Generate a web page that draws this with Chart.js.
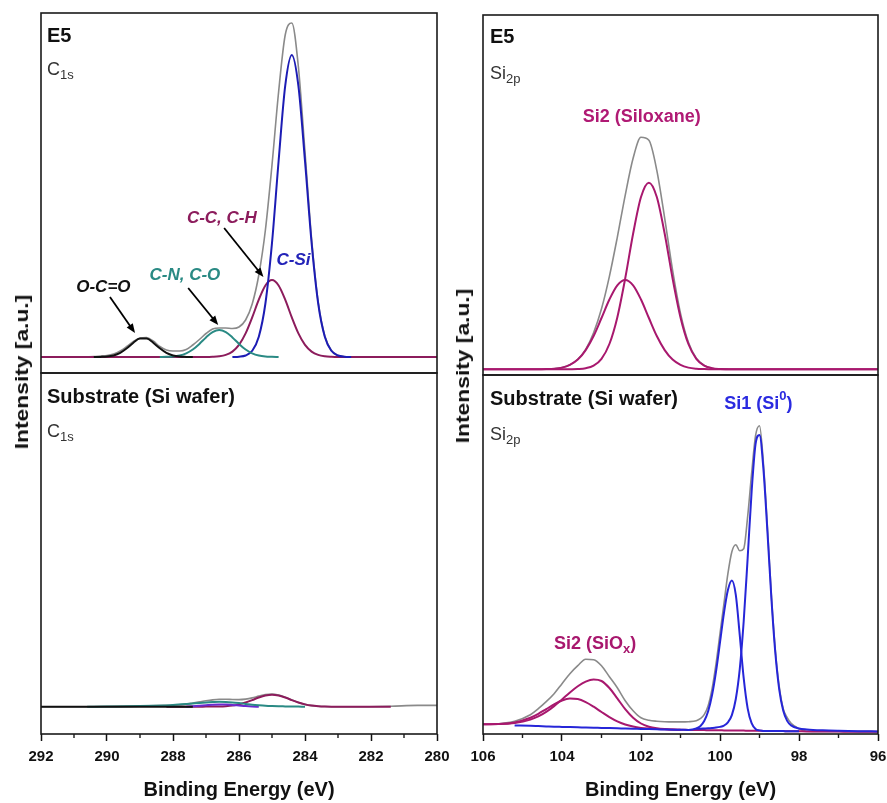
<!DOCTYPE html>
<html>
<head>
<meta charset="utf-8">
<script src="https://cdn.jsdelivr.net/npm/chart.js@4.4.1/dist/chart.umd.min.js"></script>
<style>
  body { margin: 0; background: #fff; }
  #page { position: relative; width: 887px; height: 803px; overflow: hidden; background: #fff; }
  canvas { position: absolute; }
  .ytitle {
    position: absolute; white-space: nowrap; color: #111;
    font: bold 19px "Liberation Sans", Arial, sans-serif;
    transform: translate(-50%, -50%) rotate(-90deg) scaleX(1.2);
  }
</style>
</head>
<body>
<div id="page">
  <canvas id="c1sTop" width="450" height="374" style="left:0;top:0"></canvas>
  <canvas id="c1sBot" width="450" height="431" style="left:0;top:372px"></canvas>
  <canvas id="si2pTop" width="437" height="376" style="left:450px;top:0"></canvas>
  <canvas id="si2pBot" width="437" height="429" style="left:450px;top:374px"></canvas>
  <div class="ytitle" style="left:22px;top:372px">Intensity [a.u.]</div>
  <div class="ytitle" style="left:463px;top:366px">Intensity [a.u.]</div>
</div>
<script>
// ---- C1s, sample E5 (binding energy, eV) ----
const c1sE5Energy = [292, 291, 290.4, 290.2, 290.0, 289.8, 289.6, 289.4, 289.2, 289.0, 288.8, 288.6, 288.4, 288.2, 288.0,
  287.8, 287.6, 287.4, 287.2, 287.0, 286.8, 286.6, 286.4, 286.2, 286.0, 285.8, 285.6, 285.4, 285.2, 285.0,
  284.8, 284.6, 284.4, 284.2, 284.0, 283.8, 283.6, 283.4, 283.2, 283.0, 282.8, 282.6, 282, 281, 280];
const c1sE5Envelope = [0, 0, 0.5, 1, 1.5, 3, 6, 10.5, 15.5, 19, 19.5, 16, 10.5, 7, 6,
  6, 7.5, 12, 17.5, 23.5, 28, 29, 29, 28.5, 30, 37, 53, 82, 127, 192,
  265, 322, 334, 290, 205, 118, 55, 21, 6.5, 1.5, 0.3, 0, 0, 0, 0];
const c1sE5OCO = [null, null, 0, 0.1, 0.4, 1.5, 4.1, 8.7, 14.3, 18.4, 18.4, 14.3, 8.7, 4.1, 1.5,
  0.4, 0.1, 0, null, null, null, null, null, null, null, null, null, null, null, null,
  null, null, null, null, null, null, null, null, null, null, null, null, null, null, null];
const c1sE5CNCO = [null, null, null, null, null, null, null, null, null, null, null, null, 0, 0.2, 0.5,
  1.5, 3.7, 7.5, 13.1, 19.6, 24.9, 27, 24.9, 19.6, 13.1, 7.5, 3.7, 1.5, 0.5, 0.2,
  0, null, null, null, null, null, null, null, null, null, null, null, null, null, null];
const c1sE5CCCH = [0, 0, 0, 0, 0, 0, 0, 0, 0, 0, 0, 0, 0, 0, 0,
  0, 0, 0, 0, 0, 0.2, 0.7, 2.1, 5.4, 12.1, 23.6, 39.6, 57.3, 71.5, 77,
  71.5, 57.3, 39.6, 23.6, 12.1, 5.4, 2.1, 0.7, 0.2, 0, 0, 0, 0, 0, 0];
const c1sE5CSi = [null, null, null, null, null, null, null, null, null, null, null, null, null, null, null,
  null, null, null, null, null, null, null, null, 0, 0.3, 1.5, 6.2, 20.3, 53.5, 114.1,
  196, 271.1, 302, 271.1, 196, 114.1, 53.5, 20.3, 6.2, 1.5, 0.3, 0, null, null, null];

// ---- C1s, substrate (Si wafer) ----
const c1sSubEnergy = [292, 290.6, 290, 289, 288.2, 288, 287.6, 287.4, 287.2, 287.0, 286.8, 286.6, 286.4, 286.2, 286.0,
  285.8, 285.6, 285.4, 285.2, 285.0, 284.8, 284.6, 284.4, 284.2, 284.0, 283.8, 283.6, 283.4, 283.0, 282.6,
  281.4, 280.6, 280];
const c1sSubEnvelope = [0, 0, 0.2, 0.6, 1.3, 1.6, 2.6, 3.7, 4.8, 5.9, 6.8, 7.4, 7.5, 7.2, 7.1,
  7.6, 8.8, 10.6, 12.1, 12.6, 11.6, 9.5, 6.8, 4.3, 2.3, 1.1, 0.5, 0.2, 0, 0,
  0.5, 1.3, 1.3];
const c1sSubOCO = [0, 0, 0, 0, 0, 0, 0, 0, null, null, null, null, null, null, null,
  null, null, null, null, null, null, null, null, null, null, null, null, null, null, null,
  null, null, null];
const c1sSubCNCO = [null, 0, 0.2, 0.6, 1.3, 1.6, 2.6, 3.2, 3.8, 4.3, 4.7, 5, 4.8, 4.3, 3.6,
  2.8, 2.0, 1.4, 0.9, 0.6, 0.4, 0.3, 0.2, 0.1, 0, null, null, null, null, null,
  null, null, null];
const c1sSubCCCH = [null, null, null, null, 0, 0, 0, 0, 0, 0.1, 0.1, 0.2, 0.5, 1.1, 2.3,
  4.2, 6.6, 9.2, 11.2, 12, 11.2, 9.2, 6.6, 4.2, 2.3, 1.1, 0.5, 0.2, 0, 0,
  0, null, null];
const c1sSubCSi = [null, null, null, null, null, null, 0, 0.5, 1, 1.5, 2, 2.2, 2.2, 1.8, 1.2,
  0.6, 0.2, 0, null, null, null, null, null, null, null, null, null, null, null, null,
  null, null, null];

// ---- Si2p, sample E5 ----
const si2pE5Energy = [106, 105, 104.6, 104.4, 104.2, 104.0, 103.8, 103.6, 103.4, 103.2, 103.0, 102.8, 102.6, 102.4, 102.2,
  102.0, 101.8, 101.6, 101.4, 101.2, 101.0, 100.8, 100.6, 100.4, 100.2, 100.0, 99.8, 99.6, 99, 98,
  97, 96];
const si2pE5Envelope = [null, null, null, 0.2, 0.6, 1.7, 4.5, 10, 20, 36.5, 60.5, 93, 132, 174, 211,
  232, 229, 199, 151, 99, 56, 27, 11, 3.9, 1.1, 0.3, 0.1, null, null, null,
  null, null];
const si2pE5SiloxaneA = [0, 0, 0, 0, 0, 0, 0.1, 0.3, 1.1, 3.7, 10.5, 25.3, 51.9, 90.8, 135.5,
  172.3, 186.6, 172.3, 135.5, 90.8, 51.9, 25.3, 10.5, 3.7, 1.1, 0.3, 0.1, 0, 0, 0,
  0, 0];
const si2pE5SiloxaneB = [0, 0, 0, 0.2, 0.6, 1.7, 4.4, 9.7, 19.2, 33.3, 51.3, 69.8, 84.0, 89.3, 84.0,
  69.8, 51.3, 33.3, 19.2, 9.7, 4.4, 1.7, 0.6, 0.2, 0, 0, 0, 0, 0, 0,
  0, 0];

// ---- Si2p, substrate (Si wafer) ----
const si2pSubEnergy = [106.0, 105.6, 105.2, 104.8, 104.6, 104.4, 104.2, 104.0, 103.8, 103.6, 103.4, 103.2, 103.0, 102.8, 102.6,
  102.4, 102.2, 102.0, 101.8, 101.6, 101.4, 101.2, 101.0, 100.8, 100.6, 100.5, 100.4, 100.3, 100.2, 100.1,
  100.0, 99.9, 99.8, 99.7, 99.6, 99.5, 99.4, 99.3, 99.2, 99.1, 99.0, 98.9, 98.8, 98.7, 98.6,
  98.5, 98.4, 98.3, 98.2, 98.0, 97.8, 97.4, 97.0, 96.5, 96.0];
const si2pSubEnvelope = [null, 8, 10.5, 17, 23, 30, 38, 48, 58, 66, 72.5, 72, 66, 55, 44,
  31, 21, 14, 11.5, 10.5, 10, 9.8, 9.8, 10, 11, 13, 17, 26, 43, 68,
  98, 128, 158, 180, 187, 181, 183, 215, 258, 296, 306, 268, 205, 137, 82,
  45, 23, 14, 8.5, 3, 0.5, 0.3, 0.2, 0.1, 0];
const si2pSubSiOxA = [7.5, 7.6, 8.7, 12.1, 15.3, 19.8, 25.6, 32.3, 39.2, 45.4, 50.1, 52.2, 50.7, 43.7, 33.3,
  22.6, 14.0, 8.2, 5.0, 3.4, 2.6, 2.2, 1.9, 1.8, 1.7, 1.6, 1.6, 1.5, 1.5, 1.4,
  1.4, 1.3, 1.3, 1.2, 1.2, 1.1, 1.1, 1.0, 1.0, 0.9, 0.9, 0.8, 0.8, 0.7, 0.7,
  0.6, 0.6, 0.5, 0.5, 0.4, 0.3, 0.2, 0.1, 0, 0];
const si2pSubSiOxB = [7.5, 7.7, 9.2, 14.0, 17.9, 22.6, 27.3, 31.2, 33.1, 32.6, 29.6, 25.0, 19.7, 14.6, 10.3,
  7.2, 5.1, 3.8, 3.1, 2.7, 2.4, 2.2, 1.9, null, null, null, null, null, null, null,
  null, null, null, null, null, null, null, null, null, null, null, null, null, null, null,
  null, null, null, null, null, null, null, null, null, null];
const si2pSubSi0A = [null, null, 6.3, 5.9, 5.6, 5.3, 5.0, 4.8, 4.6, 4.4, 4.2, 4.0, 3.8, 3.6, 3.4,
  3.2, 3.0, 2.8, 2.6, 2.4, 2.2, 2.0, 1.9, 1.8, 3.2, 5.5, 10.7, 20.5, 36.9, 60.4,
  89.3, 118.7, 141.6, 151.2, 136.8, 96.6, 53.5, 23.4, 8.5, 2.8, 1.3, 0.8, 0.8, 0.7, 0.7,
  0.6, 0.6, 0.5, 0.5, 0.4, null, null, null, null, null];
const si2pSubSi0B = [null, null, null, null, null, null, null, null, null, null, null, null, null, null, null,
  null, null, null, null, null, null, null, null, null, 3.0, 3.0, 3.2, 3.4, 3.7, 4.1,
  4.8, 6.1, 9.3, 16.6, 32.7, 62.6, 110.5, 173.6, 239.8, 287.6, 296.8, 262.3, 200.6, 134.1, 79.2,
  42.1, 21.1, 10.8, 6.3, 3.2, 2.3, 1.4, 0.9, 0.5, 0.3];

const FAMILY = '"Liberation Sans", Arial, sans-serif';
const GRAY = '#8a8a8a';

function pts(energy, values) {
  const out = [];
  energy.forEach(function (e, i) {
    if (values[i] !== null) out.push({ x: e, y: values[i] });
  });
  return out;
}

function drawNote(ctx, x, y, note) {
  const size = note.size || 17;
  const parts = note.parts.map(function (p) {
    const s = (p.sub || p.sup) ? Math.round(size * 0.72) : size;
    const font = [note.style, note.weight, s + 'px', FAMILY].filter(Boolean).join(' ');
    const dy = p.sub ? size * 0.3 : (p.sup ? -size * 0.4 : 0);
    return { t: p.t, font: font, dy: dy };
  });
  let w = 0;
  parts.forEach(function (p) { ctx.font = p.font; p.w = ctx.measureText(p.t).width; w += p.w; });
  let cx = note.align === 'left' ? x : x - w / 2;
  ctx.fillStyle = note.color || '#111';
  ctx.textBaseline = 'middle';
  ctx.textAlign = 'left';
  parts.forEach(function (p) { ctx.font = p.font; ctx.fillText(p.t, cx, y + p.dy); cx += p.w; });
}

function drawArrow(ctx, x0, y0, x1, y1) {
  const ang = Math.atan2(y1 - y0, x1 - x0);
  const head = 10;
  ctx.strokeStyle = '#000';
  ctx.fillStyle = '#000';
  ctx.lineWidth = 1.8;
  ctx.beginPath();
  ctx.moveTo(x0, y0);
  ctx.lineTo(x1 - Math.cos(ang) * head * 0.8, y1 - Math.sin(ang) * head * 0.8);
  ctx.stroke();
  ctx.beginPath();
  ctx.moveTo(x1, y1);
  ctx.lineTo(x1 - head * Math.cos(ang - 0.38), y1 - head * Math.sin(ang - 0.38));
  ctx.lineTo(x1 - head * Math.cos(ang + 0.38), y1 - head * Math.sin(ang + 0.38));
  ctx.closePath();
  ctx.fill();
}

// frame, minor ticks, labels and arrows
const decor = {
  id: 'decor',
  afterDraw(chart, args, opts) {
    const ctx = chart.ctx;
    const a = chart.chartArea;
    const x = chart.scales.x;
    const y = chart.scales.y;
    ctx.save();
    (opts.arrows || []).forEach(function (ar) {
      drawArrow(ctx, x.getPixelForValue(ar.from[0]), y.getPixelForValue(ar.from[1]),
        x.getPixelForValue(ar.to[0]), y.getPixelForValue(ar.to[1]));
    });
    (opts.notes || []).forEach(function (n) {
      drawNote(ctx, x.getPixelForValue(n.at[0]), y.getPixelForValue(n.at[1]), n);
    });
    (opts.corner || []).forEach(function (n) {
      drawNote(ctx, a.left + n.dx, a.top + n.dy, Object.assign({ align: 'left' }, n));
    });
    ctx.strokeStyle = '#1a1a1a';
    ctx.lineWidth = 1.6;
    ctx.strokeRect(a.left, a.top, a.right - a.left, a.bottom - a.top);
    if (opts.minorTicks) {
      ctx.lineWidth = 1.4;
      for (let v = Math.ceil(x.min); v <= x.max; v++) {
        if (v % 2 === 0) continue;
        const px = x.getPixelForValue(v);
        ctx.beginPath();
        ctx.moveTo(px, a.bottom);
        ctx.lineTo(px, a.bottom + 4);
        ctx.stroke();
      }
    }
    ctx.restore();
  }
};

function makeChart(id, cfg) {
  const xScale = { type: 'linear', reverse: true, min: cfg.xMin, max: cfg.xMax, display: cfg.showX };
  if (cfg.showX) {
    Object.assign(xScale, {
      afterFit: function (s) { s.height = 69; s.paddingLeft = 0; s.paddingRight = 0; },
      border: { display: false },
      grid: { drawOnChartArea: false, drawTicks: true, tickLength: 7, tickColor: '#111', tickWidth: 1.5 },
      ticks: { stepSize: 2, padding: 7, color: '#111', maxRotation: 0, autoSkip: false,
        font: { family: FAMILY, size: 15, weight: 'bold' } },
      title: { display: true, text: 'Binding Energy (eV)', color: '#111',
        font: { family: FAMILY, size: 20, weight: 'bold' }, padding: { top: 0, bottom: 1 } }
    });
  }
  const datasets = cfg.series.map(function (s) {
    return {
      data: pts(cfg.energy, s.values),
      borderColor: s.color,
      borderWidth: s.width || 2,
      pointRadius: 0,
      cubicInterpolationMode: 'monotone',
      fill: false
    };
  });
  return new Chart(document.getElementById(id), {
    type: 'line',
    data: { datasets: datasets },
    options: {
      responsive: false,
      animation: false,
      events: [],
      layout: { padding: cfg.padding },
      plugins: { legend: { display: false }, tooltip: { enabled: false }, decor: cfg.decor },
      scales: {
        x: xScale,
        y: { type: 'linear', display: false, min: cfg.yMin, max: cfg.yMax }
      }
    },
    plugins: [decor]
  });
}

const boldItalic = { weight: 'bold', style: 'italic', size: 17 };

makeChart('c1sTop', {
  energy: c1sE5Energy, xMin: 280, xMax: 292, yMin: -16, yMax: 344, showX: false,
  padding: { left: 41, right: 13, top: 13, bottom: 1 },
  series: [
    { values: c1sE5OCO, color: '#111111' },
    { values: c1sE5CNCO, color: '#2a8a84' },
    { values: c1sE5CSi, color: '#1c1cb4' },
    { values: c1sE5CCCH, color: '#8c1c5c' },
    { values: c1sE5Envelope, color: GRAY, width: 1.6 }
  ],
  decor: {
    corner: [
      { dx: 6, dy: 23, weight: 'bold', size: 20, parts: [{ t: 'E5' }] },
      { dx: 6, dy: 57, size: 18, color: '#333', parts: [{ t: 'C' }, { t: '1s', sub: true }] }
    ],
    notes: [
      Object.assign({ at: [290.11, 70], color: '#111', parts: [{ t: 'O-C=O' }] }, boldItalic),
      Object.assign({ at: [287.64, 82], color: '#2a8a84', parts: [{ t: 'C-N, C-O' }] }, boldItalic),
      Object.assign({ at: [286.52, 139], color: '#8c1c5c', parts: [{ t: 'C-C, C-H' }] }, boldItalic),
      Object.assign({ at: [284.35, 97], color: '#2323b8', parts: [{ t: 'C-Si' }] }, boldItalic)
    ],
    arrows: [
      { from: [289.91, 60], to: [289.15, 24] },
      { from: [287.54, 69], to: [286.63, 32] },
      { from: [286.45, 129], to: [285.26, 80] }
    ]
  }
});

makeChart('c1sBot', {
  energy: c1sSubEnergy, xMin: 280, xMax: 292, yMin: -27.3, yMax: 333.7, showX: true,
  padding: { left: 41, right: 13, top: 1, bottom: 0 },
  series: [
    { values: c1sSubOCO, color: '#111111' },
    { values: c1sSubCNCO, color: '#2a8a84' },
    { values: c1sSubCSi, color: '#6a2ad0' },
    { values: c1sSubCCCH, color: '#8c1c5c' },
    { values: c1sSubEnvelope, color: GRAY, width: 1.6 }
  ],
  decor: {
    minorTicks: true,
    corner: [
      { dx: 6, dy: 24, weight: 'bold', size: 20, parts: [{ t: 'Substrate (Si wafer)' }] },
      { dx: 6, dy: 59, size: 18, color: '#333', parts: [{ t: 'C' }, { t: '1s', sub: true }] }
    ]
  }
});

makeChart('si2pTop', {
  energy: si2pE5Energy, xMin: 96, xMax: 106, yMin: -5.7, yMax: 354.3, showX: false,
  padding: { left: 33, right: 9, top: 15, bottom: 1 },
  series: [
    { values: si2pE5SiloxaneA, color: '#a8186e' },
    { values: si2pE5SiloxaneB, color: '#a8186e' },
    { values: si2pE5Envelope, color: GRAY, width: 1.6 }
  ],
  decor: {
    corner: [
      { dx: 7, dy: 22.5, weight: 'bold', size: 20, parts: [{ t: 'E5' }] },
      { dx: 7, dy: 59, size: 18, color: '#333', parts: [{ t: 'Si' }, { t: '2p', sub: true }] }
    ],
    notes: [
      { at: [101.98, 252.6], weight: 'bold', size: 18, color: '#b01a74', parts: [{ t: 'Si2 (Siloxane)' }] }
    ]
  }
});

makeChart('si2pBot', {
  energy: si2pSubEnergy, xMin: 96, xMax: 106, yMin: -2.3, yMax: 356.7, showX: true,
  padding: { left: 33, right: 9, top: 1, bottom: 0 },
  series: [
    { values: si2pSubSi0A, color: '#2626d8' },
    { values: si2pSubSi0B, color: '#2626d8' },
    { values: si2pSubSiOxA, color: '#a8186e' },
    { values: si2pSubSiOxB, color: '#a8186e' },
    { values: si2pSubEnvelope, color: GRAY, width: 1.6 }
  ],
  decor: {
    minorTicks: true,
    corner: [
      { dx: 7, dy: 24, weight: 'bold', size: 20, parts: [{ t: 'Substrate (Si wafer)' }] },
      { dx: 7, dy: 60, size: 18, color: '#333', parts: [{ t: 'Si' }, { t: '2p', sub: true }] }
    ],
    notes: [
      { at: [99.03, 328], weight: 'bold', size: 18, color: '#2b2be0',
        parts: [{ t: 'Si1 (Si' }, { t: '0', sup: true }, { t: ')' }] },
      { at: [103.16, 88], weight: 'bold', size: 18, color: '#a8186e',
        parts: [{ t: 'Si2 (SiO' }, { t: 'x', sub: true }, { t: ')' }] }
    ]
  }
});
</script>
</body>
</html>
